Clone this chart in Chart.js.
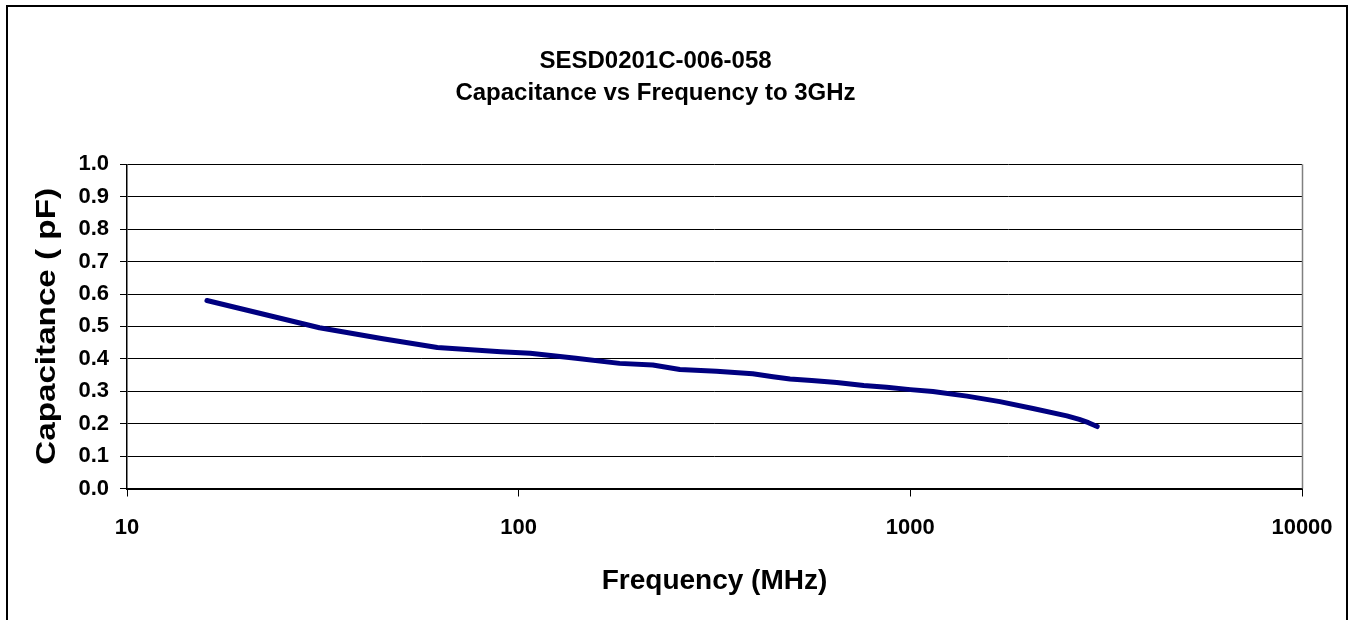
<!DOCTYPE html>
<html>
<head>
<meta charset="utf-8">
<script src="https://cdn.jsdelivr.net/npm/chart.js@4.4.1/dist/chart.umd.min.js"></script>
<style>
  html, body { margin: 0; padding: 0; background: #fff; }
  #wrap { width: 1352px; height: 620px; position: relative; }
</style>
</head>
<body>
<div id="wrap"><canvas id="c" width="1352" height="620"></canvas></div>
<script>
const titleLines = ['SESD0201C-006-058', 'Capacitance vs Frequency to 3GHz'];
const xAxisTitle = 'Frequency (MHz)';
const yAxisTitle = 'Capacitance ( pF)';
const xTickValues = [10, 100, 1000, 10000];
const yTickValues = [0, 0.1, 0.2, 0.3, 0.4, 0.5, 0.6, 0.7, 0.8, 0.9, 1.0];
const freqMHz = [16, 31, 45, 62, 90, 107, 140, 181, 220, 258, 320, 396, 446, 493, 560, 649, 760, 870, 1000, 1142, 1395, 1693, 2056, 2510, 2700, 2850, 3000];
const capPF   = [0.580, 0.496, 0.462, 0.435, 0.422, 0.417, 0.402, 0.386, 0.381, 0.367, 0.362, 0.354, 0.345, 0.338, 0.333, 0.327, 0.318, 0.312, 0.305, 0.299, 0.285, 0.268, 0.247, 0.224, 0.213, 0.203, 0.191];

const FONT = '"Liberation Sans", Arial, sans-serif';

const frame = {
  id: 'frame',
  beforeDraw(chart) {
    const ctx = chart.ctx;
    ctx.save();
    ctx.fillStyle = '#fff';
    ctx.fillRect(0, 0, chart.width, chart.height);
    ctx.restore();
  },
  afterDraw(chart) {
    const ctx = chart.ctx;
    const a = chart.chartArea;
    ctx.save();
    // right plot border
    ctx.strokeStyle = '#808080';
    ctx.lineWidth = 1.5;
    ctx.beginPath();
    ctx.moveTo(Math.round(a.right) + 0.5, a.top);
    ctx.lineTo(Math.round(a.right) + 0.5, a.bottom);
    ctx.stroke();
    // outer chart frame
    ctx.strokeStyle = '#000';
    ctx.lineWidth = 2;
    ctx.beginPath();
    ctx.moveTo(7, 630);
    ctx.lineTo(7, 6);
    ctx.lineTo(1347, 6);
    ctx.lineTo(1347, 630);
    ctx.stroke();
    // vertical axis title (stretched along its length like the original)
    ctx.translate(48, (a.top + a.bottom) / 2);
    ctx.rotate(-Math.PI / 2);
    ctx.scale(1.23, 1);
    ctx.fillStyle = '#000';
    ctx.font = 'bold 27px ' + FONT;
    ctx.textAlign = 'center';
    ctx.textBaseline = 'middle';
    ctx.fillText(yAxisTitle, 0, 0);
    ctx.restore();
  }
};

new Chart(document.getElementById('c'), {
  type: 'line',
  data: {
    datasets: [{
      data: freqMHz.map((f, i) => ({ x: f, y: capPF[i] })),
      borderColor: '#000080',
      borderWidth: 5,
      pointRadius: 0,
      tension: 0,
      borderCapStyle: 'round',
      borderJoinStyle: 'round',
      fill: false
    }]
  },
  options: {
    responsive: false,
    animation: false,
    devicePixelRatio: 1,
    layout: { padding: { left: 9, right: 50, top: 0, bottom: 0 } },
    plugins: {
      legend: { display: false },
      tooltip: { enabled: false },
      title: {
        display: true,
        text: titleLines,
        color: '#000',
        font: { family: FONT, size: 24, weight: 'bold', lineHeight: 1.33 },
        padding: { top: 45, bottom: 55.5 }
      }
    },
    scales: {
      x: {
        type: 'logarithmic',
        min: 10,
        max: 10000,
        afterBuildTicks(scale) { scale.ticks = xTickValues.map(v => ({ value: v })); },
        afterFit(scale) { scale.height = 131.5; },
        ticks: {
          color: '#000',
          font: { family: FONT, size: 22, weight: 'bold' },
          padding: 18,
          maxRotation: 0,
          autoSkip: false,
          callback: (v) => String(v)
        },
        grid: {
          drawOnChartArea: false,
          drawTicks: true,
          tickLength: 8,
          tickColor: '#000',
          tickWidth: 1
        },
        border: { display: true, color: '#000', width: 2 },
        title: {
          display: true,
          text: xAxisTitle,
          color: '#000',
          font: { family: FONT, size: 28, weight: 'bold', lineHeight: 1.2 },
          padding: { top: 0, bottom: 22 }
        }
      },
      y: {
        type: 'linear',
        min: 0,
        max: 1,
        afterBuildTicks(scale) { scale.ticks = yTickValues.map(v => ({ value: v })); },
        afterFit(scale) { scale.width = 127 - 9; },
        ticks: {
          color: '#000',
          font: { family: FONT, size: 22, weight: 'bold' },
          padding: 11,
          callback: (v) => Number(v).toFixed(1)
        },
        grid: {
          color: '#000',
          lineWidth: 1,
          drawTicks: true,
          tickLength: 7,
          tickColor: '#000'
        },
        border: { display: true, color: '#000', width: 1.5 },
        title: { display: false, text: yAxisTitle }
      }
    }
  },
  plugins: [frame]
});
</script>
</body>
</html>
